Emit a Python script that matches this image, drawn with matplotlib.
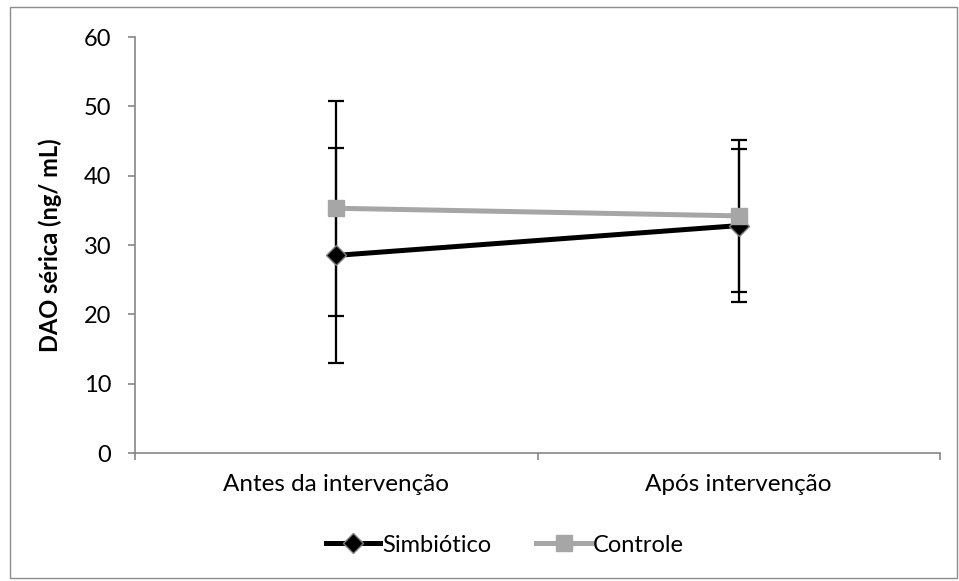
import matplotlib
matplotlib.use("Agg")
import matplotlib.pyplot as plt
from matplotlib.patches import Rectangle

plt.rcParams['font.family'] = ['Lato', 'DejaVu Sans']

# serum DAO, mean and SD per group
periods = ["Antes da intervenção", "Após intervenção"]
simbiotico_mean = [28.5, 32.8]
simbiotico_sd = [15.5, 11.0]
controle_mean = [35.3, 34.2]
controle_sd = [15.5, 11.0]

fig = plt.figure(figsize=(9.59, 5.81), dpi=100)
ax = fig.add_axes([135 / 959, 1 - 453 / 581, 805 / 959, 416 / 581])

x = [0.5, 1.5]

# error bars first, then the lines on top
ax.errorbar(x, simbiotico_mean, yerr=simbiotico_sd, fmt='none', ecolor='black',
            elinewidth=1.6, capsize=6, capthick=1.6, zorder=2)
ax.errorbar(x, controle_mean, yerr=controle_sd, fmt='none', ecolor='black',
            elinewidth=1.6, capsize=6, capthick=1.6, zorder=2)

ax.plot(x, simbiotico_mean, color='black', lw=3.6, marker='D', markersize=10,
        markerfacecolor='black', markeredgecolor='#7f7f7f', markeredgewidth=1,
        label='Simbiótico', zorder=3)
ax.plot(x, controle_mean, color='#a6a6a6', lw=3.6, marker='s', markersize=12,
        markerfacecolor='#a6a6a6', markeredgecolor='#a6a6a6',
        label='Controle', zorder=4)

ax.set_xlim(0, 2)
ax.set_ylim(0, 60)
ax.set_yticks(range(0, 61, 10))
ax.set_xticks([0, 1, 2], minor=False)
ax.set_xticklabels([])
ax.set_xticks(x, minor=True)
ax.set_xticklabels(periods, minor=True)

for side in ['top', 'right']:
    ax.spines[side].set_visible(False)
for side in ['left', 'bottom']:
    ax.spines[side].set_color('#868686')
    ax.spines[side].set_linewidth(1.2)

ax.tick_params(axis='y', which='major', direction='out', length=5, width=1.2,
               color='#868686', labelsize=17, pad=12)
ax.tick_params(axis='x', which='major', direction='out', length=5, width=1.2,
               color='#868686')
ax.tick_params(axis='x', which='minor', length=0, labelsize=17.5, pad=15)

ax.set_ylabel('DAO sérica (ng/ mL)', fontsize=17, fontweight='bold')
ax.yaxis.set_label_coords((62 - 135) / 805, 0.5)

fig.legend(loc='center', bbox_to_anchor=(505 / 959, 1 - 545 / 581), ncol=2,
           frameon=False, fontsize=17, handlelength=2.3, handletextpad=0.1,
           columnspacing=1.9)

# outer chart border
fig.patches.append(Rectangle((10 / 959, 3 / 581), 947 / 959, 571 / 581,
                             transform=fig.transFigure, fill=False,
                             edgecolor='#8c8c8c', lw=1))

fig.savefig('out.png', dpi=100)
